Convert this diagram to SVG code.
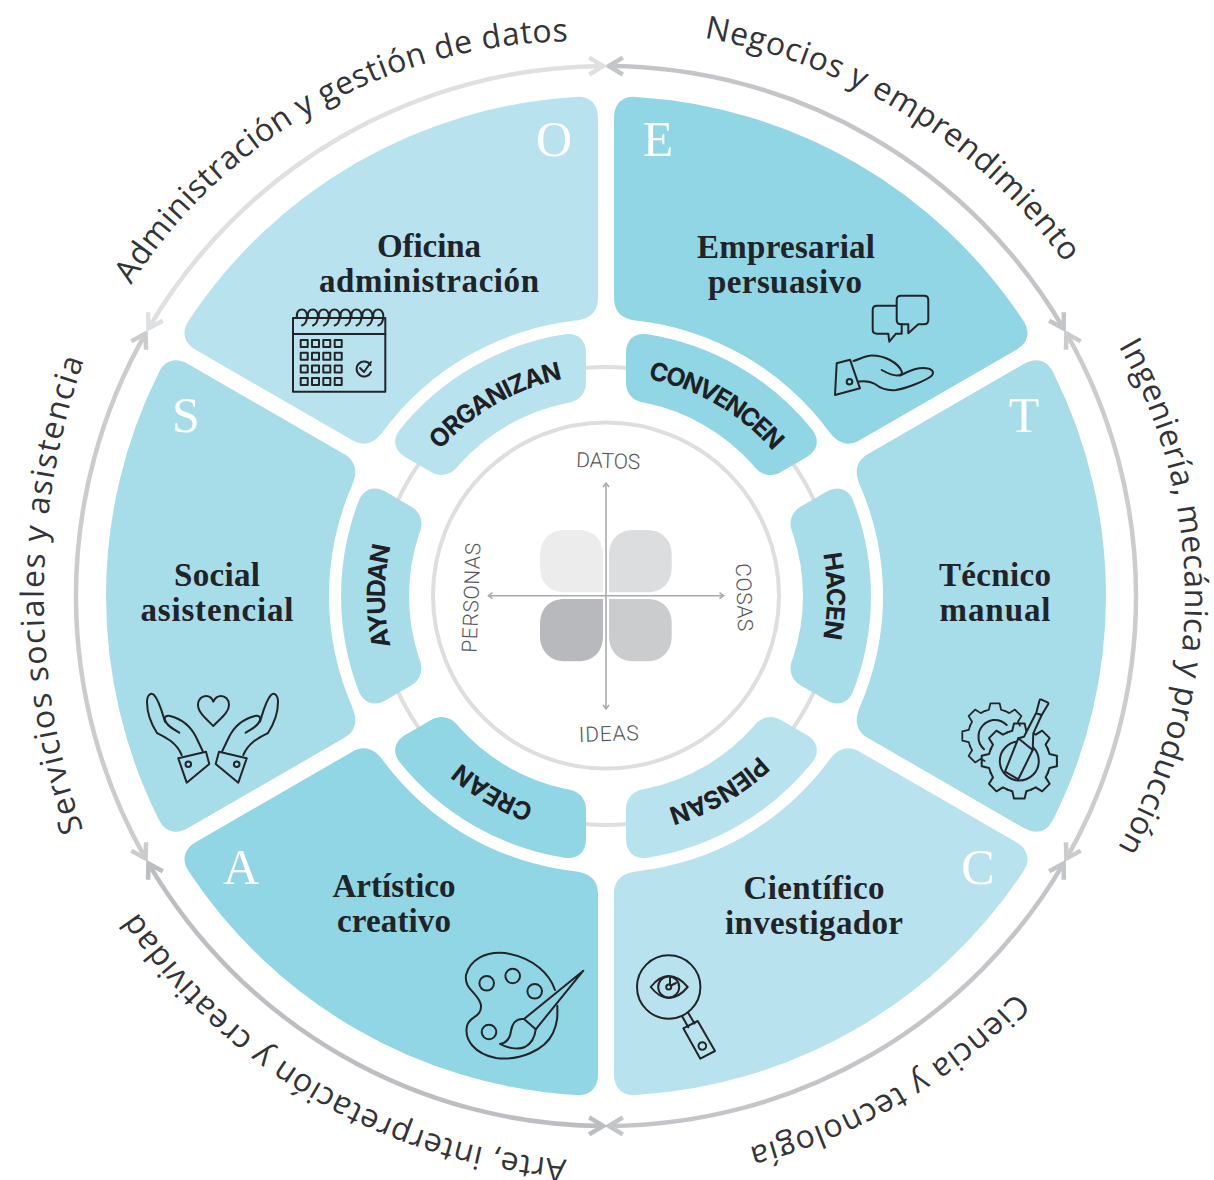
<svg xmlns="http://www.w3.org/2000/svg" width="1214" height="1180" viewBox="0 0 1214 1180">
<style>
.out{font-family:"Open Sans","Liberation Sans",sans-serif;font-size:32px;fill:#333438}
.band{font-family:"Inter","Liberation Sans",sans-serif;font-size:25px;font-weight:700;fill:#1f2023;text-anchor:middle}
.title{font-family:"Liberation Serif",serif;font-size:33px;font-weight:700;fill:#222327;text-anchor:middle}
.letter{font-family:"Liberation Serif",serif;font-size:50px;fill:#fff;text-anchor:middle}
.axis{font-family:"Roboto","Liberation Sans",sans-serif;font-weight:300;font-size:21px;fill:#55565a;text-anchor:middle}
.ic{fill:none;stroke:#232428;stroke-width:2;stroke-linejoin:round;stroke-linecap:round}
.arc{fill:none;stroke-width:4.5}
.x{stroke:#a9aaad;stroke-width:1.6;fill:none}
</style>
<defs>
<path id="sector" d="M8,-478 C8,-492 16,-500 30,-499.1 A500,500 0 0 1 417.2,-275.5 C425,-263.9 422,-252.9 410,-245.9 L254,-155.9 C243.7,-149.9 233.3,-150.9 223.5,-163.7 A277,277 0 0 0 30,-275.4 C14,-277.5 8,-286 8,-298 Z"/>
<path id="bandshape" d="M20,-243 C20,-256 28,-263 40,-261.9 A265,265 0 0 1 206.8,-165.6 C213.8,-155.7 211.7,-145.3 200.4,-138.8 L174.5,-123.8 C164.9,-118.3 154,-121.2 147,-131.1 A197,197 0 0 0 40,-192.9 C28,-194 20,-202 20,-213 Z"/>
<path id="bandarc" d="M-142.1,-169.3 A221,221 0 0 1 142.1,-169.3"/>
<path id="p1" d="M704,38 A567,567 0 0 1 1097,312.5"/>
<path id="p2" d="M1118.5,346 A505,505 0 0 1 1092.4,887.5"/>
<path id="p3" d="M1016,992 A570,570 0 0 1 655.7,1163.8"/>
<path id="p4" d="M566.6,1159.6 A565,565 0 0 1 94,834.8"/>
<path id="p5" d="M83.3,830 A710,710 0 0 1 108.4,300"/>
<path id="p6" d="M131,285 A530,530 0 0 1 657.5,47.3"/>
<marker id="mA" markerUnits="userSpaceOnUse" markerWidth="30" markerHeight="30" refX="0" refY="0" viewBox="-20 -15 30 30" orient="auto-start-reverse"><path d="M-14,-8.5 L0,0 L-14,8.5" fill="none" stroke="#c3c5c9" stroke-width="4.5"/></marker>
<marker id="mB" markerUnits="userSpaceOnUse" markerWidth="30" markerHeight="30" refX="0" refY="0" viewBox="-20 -15 30 30" orient="auto-start-reverse"><path d="M-14,-8.5 L0,0 L-14,8.5" fill="none" stroke="#cbccce" stroke-width="4.5"/></marker>
<marker id="mC" markerUnits="userSpaceOnUse" markerWidth="30" markerHeight="30" refX="0" refY="0" viewBox="-20 -15 30 30" orient="auto-start-reverse"><path d="M-14,-8.5 L0,0 L-14,8.5" fill="none" stroke="#dfe0e1" stroke-width="4.5"/></marker>
<marker id="mD" markerUnits="userSpaceOnUse" markerWidth="30" markerHeight="30" refX="0" refY="0" viewBox="-20 -15 30 30" orient="auto-start-reverse"><path d="M-14,-8.5 L0,0 L-14,8.5" fill="none" stroke="#bcbec2" stroke-width="4.5"/></marker>
<marker id="mX" markerUnits="userSpaceOnUse" markerWidth="12" markerHeight="12" refX="0" refY="0" viewBox="-8 -6 12 12" orient="auto-start-reverse"><path d="M-4,-3 L0,0 L-4,3" fill="none" stroke="#a9aaad" stroke-width="1.6"/></marker>
<path id="tooth" d="M-11.9,-28.6 L-7,-30.2 L-5.3,-37.6 L5.3,-37.6 L7,-30.2 L11.9,-28.6"/>
<path id="coil" d="M0,8.5 C-1,2 2,0 5,0 C8,0 10,3 10,6 C10,11 8,15 5,16"/>
<rect id="cell" width="7" height="7"/>
</defs>

<rect width="1214" height="1180" fill="#fff"/>

<g id="rings" fill="none" stroke="#dddedf" stroke-width="4">
<circle cx="606" cy="596" r="229"/>
<circle cx="606" cy="595.5" r="173"/>
</g>

<g id="connectors">
<path class="arc" stroke="#c3c5c9" marker-start="url(#mA)" marker-end="url(#mA)" d="M608.8,66 A530,530 0 0 1 1063.6,328.6"/>
<path class="arc" stroke="#cbccce" marker-start="url(#mB)" marker-end="url(#mB)" d="M1066.4,333.4 A530,530 0 0 1 1066.4,858.6"/>
<path class="arc" stroke="#c3c5c9" marker-start="url(#mA)" marker-end="url(#mA)" d="M1063.6,863.4 A530,530 0 0 1 608.8,1126"/>
<path class="arc" stroke="#bcbec2" marker-start="url(#mD)" marker-end="url(#mD)" d="M603.2,1126 A530,530 0 0 1 148.4,863.4"/>
<path class="arc" stroke="#cbccce" marker-start="url(#mB)" marker-end="url(#mB)" d="M145.6,858.6 A530,530 0 0 1 145.6,333.4"/>
<path class="arc" stroke="#dfe0e1" marker-start="url(#mC)" marker-end="url(#mC)" d="M148.4,328.6 A530,530 0 0 1 603.2,66"/>
</g>

<g id="outer-labels">
<text class="out"><textPath href="#p1" textLength="436">Negocios y emprendimiento</textPath></text>
<text class="out"><textPath href="#p2" textLength="525">Ingeniería, mecánica y producción</textPath></text>
<text class="out"><textPath href="#p3" textLength="313">Ciencia y tecnología</textPath></text>
<text class="out"><textPath href="#p4" textLength="513">Arte, interpretación y creatividad</textPath></text>
<text class="out"><textPath href="#p5" textLength="479">Servicios sociales y asistencia</textPath></text>
<text class="out"><textPath href="#p6" textLength="521">Administración y gestión de datos</textPath></text>
</g>

<g id="node-E">
<use href="#sector" transform="translate(606 596)" fill="#90d6e4"/>
<text class="letter" x="658" y="156">E</text>
<text class="title" x="786" y="258" textLength="178">Empresarial</text>
<text class="title" x="785" y="293" textLength="154">persuasivo</text>
<g class="ic">
<path d="M896,305.7 H877 Q872.7,305.7 872.7,310 V329.5 Q872.7,333.7 877,333.7 H888.3 L889.3,341.7 L896,333.7 H901.7 V324.3"/>
<path d="M901,295.7 H924 Q928.3,295.7 928.3,300 V320 Q928.3,324.3 924,324.3 H918.3 L908.3,333.3 V324.3 H901 Q896.7,324.3 896.7,320 V300 Q896.7,295.7 901,295.7 Z"/>
<path d="M836.7,363.3 L850,359.7 L860,388.3 L835,395 Z"/>
<circle cx="849.5" cy="381.7" r="2.8"/>
<path d="M853.5,361 C860,359 866,355.5 872,355.5 C884,355.5 898,362 902,372 C902,374.5 900,375.5 897,375.5 C892,375.5 887,373 881.7,370"/>
<path d="M900,375.5 C908,372 918,366 928,368.5 C934,370 934.5,374 930,377 C924,381 908,388 896,390 C886,391 880,388 875,384 C870,381 866,380.5 859,381.5"/>
</g>
</g>

<g id="node-T">
<use href="#sector" transform="translate(606 596) rotate(60)" fill="#a7dce9"/>
<text class="letter" x="1024" y="432">T</text>
<text class="title" x="995" y="586" textLength="112">Técnico</text>
<text class="title" x="995" y="621" textLength="111">manual</text>
<g class="ic">
<g transform="translate(995 736) scale(.87)">
<use href="#tooth" transform="rotate(225)"/><use href="#tooth" transform="rotate(270)"/><use href="#tooth" transform="rotate(315)"/><use href="#tooth"/><use href="#tooth" transform="rotate(45)"/>
</g>
<path d="M1006.7,725 A17,17 0 0 0 993,720 A17,17 0 0 0 978.5,736 A17,17 0 0 0 984,749.3"/>
<g transform="translate(1019.3 761)">
<use href="#tooth" transform="rotate(0)"/><use href="#tooth" transform="rotate(45)"/><use href="#tooth" transform="rotate(90)"/><use href="#tooth" transform="rotate(135)"/><use href="#tooth" transform="rotate(180)"/><use href="#tooth" transform="rotate(225)"/><use href="#tooth" transform="rotate(270)"/><use href="#tooth" transform="rotate(315)"/>
<circle r="19.5"/>
</g>
<path fill="#a7dce9" d="M1036,713.3 L1024,736.7 L1018.3,738.3 L1005,771.7 L1018.3,779.3 L1032.7,750 L1033.3,733.3 L1041.7,715 Z"/>
<path d="M1018.3,738.3 L1032.7,750"/>
<path d="M1036.5,712 L1039.5,700.5 Q1040,699 1041.5,699.6 L1047.5,702.3 Q1049,703 1048,704.5 L1042,714.5"/>
</g>
</g>

<g id="node-C">
<use href="#sector" transform="translate(606 596) rotate(120)" fill="#b8e3ee"/>
<text class="letter" x="978" y="884">C</text>
<text class="title" x="814" y="899" textLength="141">Científico</text>
<text class="title" x="814" y="934" textLength="178">investigador</text>
<g class="ic">
<circle cx="668.7" cy="987" r="31.7"/>
<path d="M650.7,987 C657,979 663,976 668.7,976 C675,976 681,979 687.7,987 C681,995 675,998 668.7,998 C663,998 657,995 650.7,987 Z"/>
<circle cx="668.7" cy="987" r="10.5"/>
<circle cx="668.7" cy="987" r="2.5"/>
<path d="M670,984.5 L670,978 M671,985.5 L676,983"/>
<path d="M682,1016 L688.3,1027.3 M688.3,1013 L694.5,1023.5"/>
<path d="M683.3,1028.3 L697.7,1021 L715,1051 L700.3,1058.7 Z"/>
<circle cx="702.3" cy="1046" r="3.8"/>
</g>
</g>

<g id="node-A">
<use href="#sector" transform="translate(606 596) rotate(180)" fill="#90d6e4"/>
<text class="letter" x="241" y="884">A</text>
<text class="title" x="394" y="897" textLength="123">Artístico</text>
<text class="title" x="394" y="932" textLength="114">creativo</text>
<g class="ic">
<path d="M555,990 C550,975 535,958 505,953 C485,951 470,960 466,975 C464,990 478,992 481,1005 C482,1018 469,1016 467,1026 C464,1040 475,1054 496,1058 C520,1061 545,1050 553,1033 C558,1022 557.5,1015 557.3,1005.7"/>
<circle cx="486.7" cy="983.3" r="7.3"/>
<circle cx="512.7" cy="976" r="7.3"/>
<circle cx="534.7" cy="991.3" r="7.3"/>
<circle cx="489" cy="1032" r="7.3"/>
<path d="M524,1019 L583.3,970.7 L535.7,1029.3 Z"/>
<path d="M524,1019 C516,1018 512,1024 511,1031 C510,1038 506,1043 500,1044 C507,1048 518,1050 525,1047 C532,1043 535,1036 535.7,1029.3"/>
</g>
</g>

<g id="node-S">
<use href="#sector" transform="translate(606 596) rotate(240)" fill="#a7dce9"/>
<text class="letter" x="186" y="432">S</text>
<text class="title" x="217" y="586" textLength="86">Social</text>
<text class="title" x="217" y="621" textLength="153">asistencial</text>
<g class="ic">
<g id="hand-left">
<path d="M178.3,758.3 L206,751.7 L209.3,764 L186.7,782.7 Z"/>
<circle cx="188.3" cy="764.3" r="2.8"/>
<path d="M181.7,755 C176,742 165,737 157,733 C150,722 147,712 147,702 C147,695 151,692 154,695 C159,700 162,712 165,721.7"/>
<path d="M179.3,732.7 C173,729 166,725 165,720 C164,716 167,715.5 170,716 C182,719 191,727 196,737 L202.7,751"/>
</g>
<g transform="matrix(-1 0 0 1 425 0)">
<path d="M178.3,758.3 L206,751.7 L209.3,764 L186.7,782.7 Z"/>
<circle cx="188.3" cy="764.3" r="2.8"/>
<path d="M181.7,755 C176,742 165,737 157,733 C150,722 147,712 147,702 C147,695 151,692 154,695 C159,700 162,712 165,721.7"/>
<path d="M179.3,732.7 C173,729 166,725 165,720 C164,716 167,715.5 170,716 C182,719 191,727 196,737 L202.7,751"/>
</g>
<path d="M213.3,726 C205,718 198,712 198,705 C198,699 202,696 206,696 C209,696 212,698 213.3,701.7 C215,698 218,696 221,696 C225,696 229,699 229,705 C229,712 221,718 213.3,726 Z"/>
</g>
</g>

<g id="node-O">
<use href="#sector" transform="translate(606 596) rotate(300)" fill="#b8e3ee"/>
<text class="letter" x="554" y="156">O</text>
<text class="title" x="429" y="257" textLength="104">Oficina</text>
<text class="title" x="429" y="292" textLength="220">administración</text>
<g class="ic">
<rect x="293" y="318" width="92.3" height="73.7"/>
<path d="M293,334 H385.3"/>
<g transform="translate(297 309.5)">
<use href="#coil"/><use href="#coil" x="10.9"/><use href="#coil" x="21.8"/><use href="#coil" x="32.7"/><use href="#coil" x="43.6"/><use href="#coil" x="54.5"/><use href="#coil" x="65.4"/><use href="#coil" x="76.3"/>
</g>
<g transform="translate(300.7 340)">
<use href="#cell"/><use href="#cell" x="11.3"/><use href="#cell" x="22.6"/><use href="#cell" x="34"/>
<use href="#cell" y="12.7"/><use href="#cell" x="11.3" y="12.7"/><use href="#cell" x="22.6" y="12.7"/><use href="#cell" x="34" y="12.7"/>
<use href="#cell" y="25.4"/><use href="#cell" x="11.3" y="25.4"/><use href="#cell" x="22.6" y="25.4"/><use href="#cell" x="34" y="25.4"/>
<use href="#cell" y="38"/><use href="#cell" x="11.3" y="38"/><use href="#cell" x="22.6" y="38"/><use href="#cell" x="34" y="38"/>
</g>
<path d="M370.5,365 A7.5,7.5 0 1 0 371,372"/>
<path d="M360,368 L364,372 L371,362"/>
</g>
</g>

<g id="band-convencen">
<use href="#bandshape" transform="translate(606 596)" fill="#90d6e4"/>
<text class="band" transform="translate(606 596) rotate(30)"><textPath href="#bandarc" startOffset="50%" textLength="147">CONVENCEN</textPath></text>
</g>
<g id="band-hacen">
<use href="#bandshape" transform="translate(606 596) rotate(60)" fill="#a7dce9"/>
<text class="band" transform="translate(606 596) rotate(90)"><textPath href="#bandarc" startOffset="50%" textLength="85">HACEN</textPath></text>
</g>
<g id="band-piensan">
<use href="#bandshape" transform="translate(606 596) rotate(120)" fill="#b8e3ee"/>
<text class="band" transform="translate(606 596) rotate(150)"><textPath href="#bandarc" startOffset="50%" textLength="106">PIENSAN</textPath></text>
</g>
<g id="band-crean">
<use href="#bandshape" transform="translate(606 596) rotate(180)" fill="#90d6e4"/>
<text class="band" transform="translate(606 596) rotate(210)"><textPath href="#bandarc" startOffset="50%" textLength="85">CREAN</textPath></text>
</g>
<g id="band-ayudan">
<use href="#bandshape" transform="translate(606 596) rotate(240)" fill="#a7dce9"/>
<text class="band" transform="translate(606 596) rotate(270)"><textPath href="#bandarc" startOffset="50%" textLength="101">AYUDAN</textPath></text>
</g>
<g id="band-organizan">
<use href="#bandshape" transform="translate(606 596) rotate(300)" fill="#b8e3ee"/>
<text class="band" transform="translate(606 596) rotate(330)"><textPath href="#bandarc" startOffset="50%" textLength="144">ORGANIZAN</textPath></text>
</g>

<g id="center">
<path fill="#ececed" d="M603,592.3 H565 C549,592.3 540,582 540,567 V555 C540,540 550,530 565,530 H578 C594,530 603,540 603,555 Z"/>
<path fill="#dcddde" d="M609,592.3 H647 C663,592.3 671.7,582 671.7,567 V555 C671.7,540 662,530 647,530 H634 C618,530 609,540 609,555 Z"/>
<path fill="#b8b9bc" d="M603,599 H565 C549,599 540,609 540,624 V636 C540,651 550,661.3 565,661.3 H578 C594,661.3 603,651 603,636 Z"/>
<path fill="#cbccce" d="M609,599 H647 C663,599 671.7,609 671.7,624 V636 C671.7,651 662,661.3 647,661.3 H634 C618,661.3 609,651 609,636 Z"/>
<path class="x" marker-start="url(#mX)" marker-end="url(#mX)" d="M606,483 V709"/>
<path class="x" marker-start="url(#mX)" marker-end="url(#mX)" d="M488.5,595.7 H723.5"/>
<text class="axis" transform="translate(608 468) rotate(2)" textLength="64">DATOS</text>
<text class="axis" transform="translate(609 741) rotate(-2)" textLength="60">IDEAS</text>
<text class="axis" transform="translate(478.5 598) rotate(-88)" textLength="110">PERSONAS</text>
<text class="axis" transform="translate(737 597.5) rotate(88)" textLength="68">COSAS</text>
</g>
</svg>
